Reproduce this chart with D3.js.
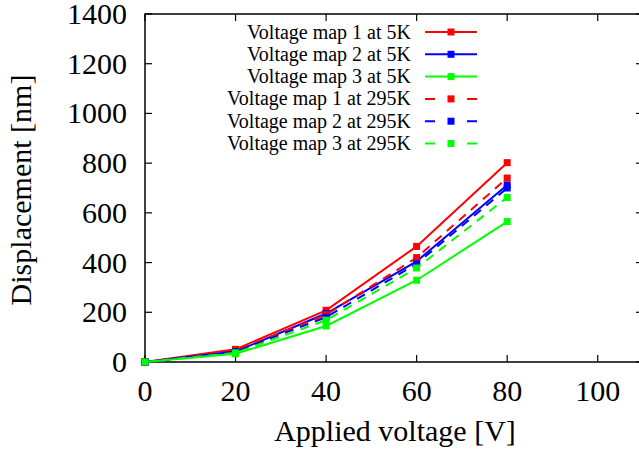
<!DOCTYPE html>
<html><head><meta charset="utf-8">
<script src="https://cdn.jsdelivr.net/npm/d3@7"></script>
<style>html,body{margin:0;padding:0;background:#fff;}svg{display:block;}</style>
</head><body>
<script>
const voltages = [0, 20, 40, 60, 80];
const seriesNames = ["Voltage map 1 at 5K","Voltage map 2 at 5K","Voltage map 3 at 5K",
  "Voltage map 1 at 295K","Voltage map 2 at 295K","Voltage map 3 at 295K"];
const map1at5K = [0, 51, 208, 465, 802];
const map2at5K = [0, 42, 195, 405, 712];
const map3at5K = [0, 33, 145, 329, 565];
const map1at295K = [0, 45, 190, 420, 740];
const map2at295K = [0, 42, 180, 395, 700];
const map3at295K = [0, 37, 168, 378, 662];
const seriesValues = [map1at5K, map2at5K, map3at5K, map1at295K, map2at295K, map3at295K];
const seriesColors = ["#ff0000","#0000ff","#00ff00","#ff0000","#0000ff","#00ff00"];
const seriesDashed = [false,false,false,true,true,true];
const xTicks = [0, 20, 40, 60, 80, 100];
const yTicks = [0, 200, 400, 600, 800, 1000, 1200, 1400];

(function () {
const W = 639, H = 459;
const pL = 145, pR = 643, pT = 14, pB = 362;
const svg = d3.select("body").append("svg").attr("width", W).attr("height", H);
const x = d3.scaleLinear().domain([0, 110]).range([pL, pR]);
const y = d3.scaleLinear().domain([0, 1400]).range([pB, pT]);
const ff = "Liberation Serif";
const fs = 30;

// ticks (inward, mirrored)
const tk = 7;
const g = svg.append("g").attr("stroke", "#000").attr("stroke-width", 1.2);
xTicks.forEach(v => {
  g.append("line").attr("x1", x(v)).attr("x2", x(v)).attr("y1", pB).attr("y2", pB - tk);
  g.append("line").attr("x1", x(v)).attr("x2", x(v)).attr("y1", pT).attr("y2", pT + tk);
});
yTicks.forEach(v => {
  g.append("line").attr("x1", pL).attr("x2", pL + tk).attr("y1", y(v)).attr("y2", y(v));
  g.append("line").attr("x1", pR).attr("x2", pR - tk).attr("y1", y(v)).attr("y2", y(v));
});
svg.append("rect").attr("x", pL).attr("y", pT).attr("width", pR - pL).attr("height", pB - pT)
  .attr("fill", "none").attr("stroke", "#000").attr("stroke-width", 1.5);

// tick labels
svg.append("g").selectAll("text").data(xTicks).join("text")
  .attr("x", d => x(d)).attr("y", 401).attr("text-anchor", "middle")
  .attr("font-family", ff).attr("font-size", fs).text(d => d);
svg.append("g").selectAll("text").data(yTicks).join("text")
  .attr("x", 127).attr("y", d => y(d) + 10).attr("text-anchor", "end")
  .attr("font-family", ff).attr("font-size", fs).text(d => d);

// axis titles
svg.append("text").attr("x", 395).attr("y", 441).attr("text-anchor", "middle")
  .attr("font-family", ff).attr("font-size", fs).text("Applied voltage [V]");
svg.append("text").attr("transform", "translate(31,190) rotate(-90)").attr("text-anchor", "middle")
  .attr("font-family", ff).attr("font-size", fs).text("Displacement [nm]");

// series
const line = d3.line().x((d, i) => x(voltages[i])).y(d => y(d));
const ms = 7;
seriesValues.forEach((vals, s) => {
  const sg = svg.append("g");
  sg.append("path").attr("d", line(vals)).attr("fill", "none")
    .attr("stroke", seriesColors[s]).attr("stroke-width", 2)
    .attr("stroke-dasharray", seriesDashed[s] ? "9,7" : null);
  sg.selectAll("rect").data(vals).join("rect")
    .attr("x", (d, i) => x(voltages[i]) - ms / 2).attr("y", d => y(d) - ms / 2)
    .attr("width", ms).attr("height", ms).attr("fill", seriesColors[s]);
});

// legend
const lx0 = 425, lx1 = 477, ltx = 411, ly0 = 32, ldy = 22.3;
seriesNames.forEach((name, s) => {
  const yy = ly0 + s * ldy;
  svg.append("text").attr("x", ltx).attr("y", yy + 6.5).attr("text-anchor", "end")
    .attr("font-family", ff).attr("font-size", 20).text(name);
  svg.append("line").attr("x1", lx0).attr("x2", lx1).attr("y1", yy).attr("y2", yy)
    .attr("stroke", seriesColors[s]).attr("stroke-width", 2)
    .attr("stroke-dasharray", seriesDashed[s] ? "10,32" : null);
  svg.append("rect").attr("x", (lx0 + lx1) / 2 - ms / 2).attr("y", yy - ms / 2)
    .attr("width", ms).attr("height", ms).attr("fill", seriesColors[s]);
});
})();
</script>
</body></html>
